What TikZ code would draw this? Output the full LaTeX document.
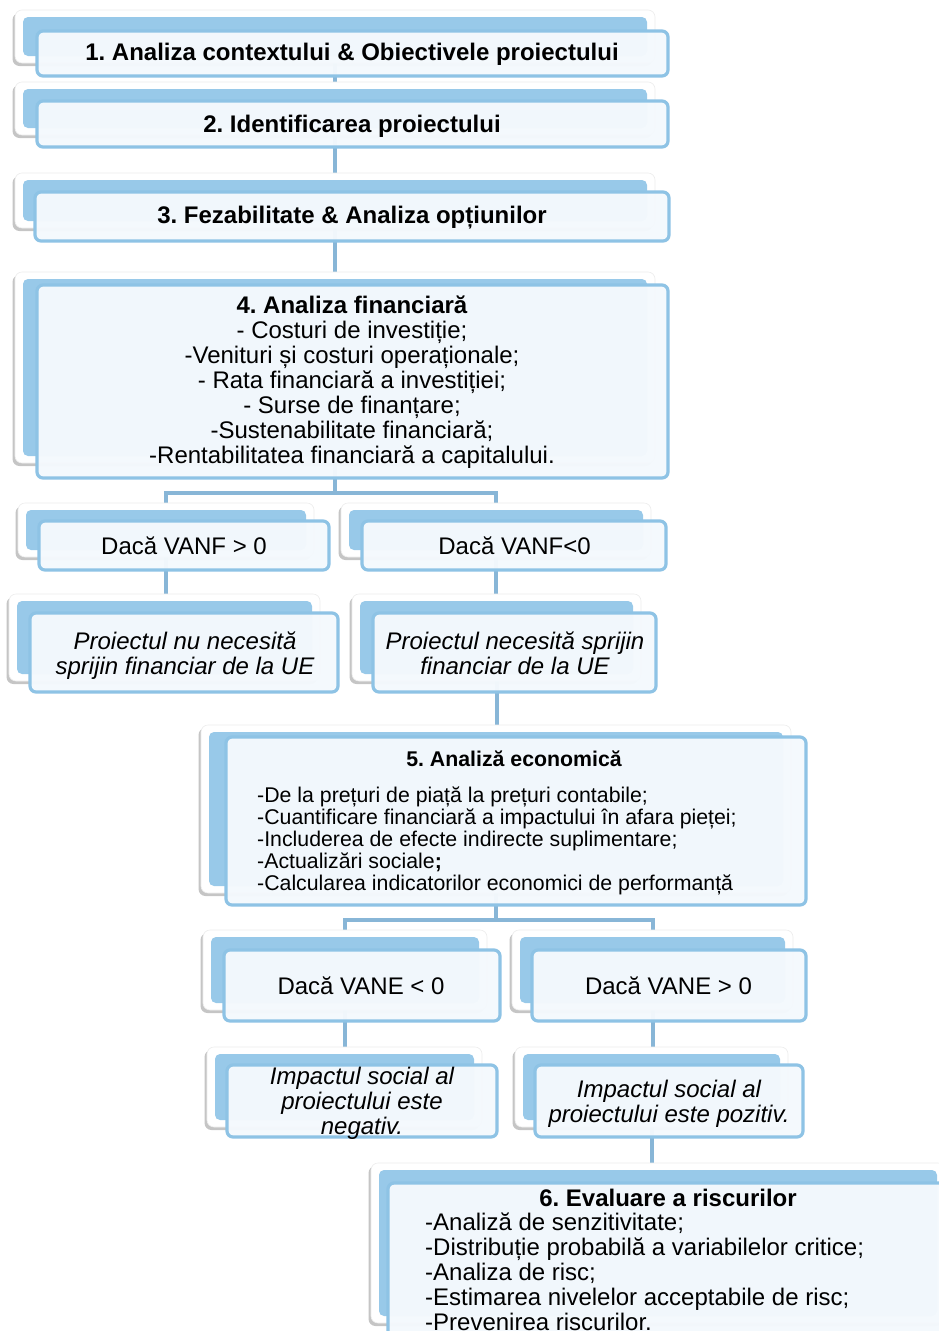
\documentclass[tikz,border=0pt]{standalone}
\usepackage{fontspec}
\setmainfont{Liberation Sans}
\frenchspacing
\usetikzlibrary{fit,shadows}
\definecolor{cardblue}{HTML}{98C9E9}
\definecolor{edgeblue}{HTML}{8EC3E5}
\definecolor{paleblue}{HTML}{F4F9FD}
\definecolor{linkblue}{HTML}{88B6D7}
\pgfdeclarelayer{bg}
\pgfsetlayers{bg,main}
\newcommand\fsA{\fontsize{24}{25}\selectfont}
\newcommand\fsB{\fontsize{21.3}{22}\selectfont}
\tikzset{
  backbox/.style={fill=white, draw=black!7, line width=0.6pt, rounded corners=7pt, inner sep=0pt,
    drop shadow={shadow xshift=-2.5pt, shadow yshift=-3pt, opacity=0.45, fill=black!50}},
  bluefill/.style={fill=cardblue, rounded corners=5pt},
  frontbox/.style={draw=edgeblue, line width=3.2pt, fill=paleblue, fill opacity=0.97, rounded corners=6pt, inner sep=0pt},
  link/.style={draw=linkblue, line width=4pt},
  txt/.style={font=\fsA, align=center, inner sep=0pt, text=black},
  txtb/.style={font=\fsA\bfseries, align=center, inner sep=0pt, text=black},
  txti/.style={font=\fsA\itshape, align=center, inner sep=0pt, text=black},
}
\newcommand\cardbox[9]{%
  \node[backbox, fit={(#2,#3)(#4,#5)}] (#1b) {};
  \fill[bluefill] ({#2+8},{#3+7}) rectangle ({#4-8},{#5-7});
  \node[frontbox, fit={(#6,#7)(#8,#9)}] (#1) {};
}
\begin{document}
\begin{tikzpicture}[x=1pt,y=-1pt]
\useasboundingbox (0,0) rectangle (939,1331);
\clip (0,0) rectangle (939,1331);

\cardbox{c1}{15}{10}{655}{63}{37}{31}{668}{76}
\cardbox{c2}{15}{82}{655}{135}{37}{101}{668}{147}
\cardbox{c3}{15}{173}{655}{228}{35}{192}{669}{241}
\cardbox{c4}{15}{272}{655}{463}{37}{285}{668}{478}
\cardbox{v1}{18}{503}{314}{557}{39}{521}{329}{570}
\cardbox{v2}{341}{503}{651}{557}{362}{521}{666}{570}
\cardbox{p1}{9}{594}{320}{681}{30}{613}{338}{692}
\cardbox{p2}{352}{594}{641}{681}{373}{613}{656}{692}
\cardbox{c5}{201}{725}{791}{893}{226}{737}{806}{905}
\cardbox{e1}{203}{930}{487}{1010}{224}{950}{500}{1021}
\cardbox{e2}{512}{930}{793}{1010}{532}{950}{806}{1021}
\cardbox{i1}{207}{1047}{482}{1127}{227}{1065}{497}{1137}
\cardbox{i2}{515}{1047}{788}{1127}{535}{1065}{803}{1137}
\cardbox{c6}{371}{1163}{945}{1323}{388}{1183}{965}{1360}

\coordinate (j4) at (335,493);
\coordinate (j5) at (497,920);
\begin{pgfonlayer}{bg}
  \fill[white] (0,0) rectangle (939,1331);
  \draw[link] (c1b.south) -- (c1b.south |- c2b.north);
  \draw[link] (c2b.south) -- (c2b.south |- c3b.north);
  \draw[link] (c3b.south) -- (c3b.south |- c4b.north);
  \draw[link] (c4b.south) -- (j4);
  \draw[link] (v1b.north) |- (j4) -| (v2b.north);
  \draw[link] (v1b.south) -- (v1b.south |- p1b.north);
  \draw[link] (v2b.south) -- (v2b.south |- p2b.north);
  \draw[link] (p2b.south) -- (p2b.south |- c5b.north);
  \draw[link] (c5b.south) -- (c5b.south |- j5);
  \draw[link] (e1b.north) |- (j5) -| (e2b.north);
  \draw[link] (e1b.south) -- (e1b.south |- i1b.north);
  \draw[link] (e2b.south) -- (e2b.south |- i2b.north);
  \draw[link] (i2b.south) -- (i2b.south |- c6b.north);
\end{pgfonlayer}

\node[txtb, anchor=base] (t1) at (352,60.5) {1. Analiza contextului \& Obiectivele proiectului};
\node[txtb, anchor=base] (t2) at (352,132.5) {2. Identificarea proiectului};
\node[txtb, anchor=base] (t3) at (352,223.5) {3. Fezabilitate \& Analiza opțiunilor};
\node[txt, anchor=north] (t4) at (352,296) {\textbf{4. Analiza financiară}\\- Costuri de investiție;\\-Venituri și costuri operaționale;\\- Rata financiară a investiției;\\- Surse de finanțare;\\-Sustenabilitate financiară;\\-Rentabilitatea financiară a capitalului.};
\node[txt, anchor=base] (tv1) at (184,554) {Dacă VANF > 0};
\node[txt, anchor=base] (tv2) at (514.5,554) {Dacă VANF<0};
\node[txti, anchor=north] (tp1) at (185,632) {Proiectul nu necesită\\sprijin financiar de la UE};
\node[txti, anchor=north] (tp2) at (515,632) {Proiectul necesită sprijin\\financiar de la UE};
\node[txtb, font=\fsB\bfseries, anchor=base] (t5) at (514,766) {5. Analiză economică};
\node[txt, font=\fsB, align=left, anchor=north west] (t5l) at (257,787) {-De la prețuri de piață la prețuri contabile;\\-Cuantificare financiară a impactului în afara pieței;\\-Includerea de efecte indirecte suplimentare;\\-Actualizări sociale\textbf{;}\\-Calcularea indicatorilor economici de performanță};
\node[txt, anchor=base] (te1) at (361,994) {Dacă VANE < 0};
\node[txt, anchor=base] (te2) at (668.5,994) {Dacă VANE > 0};
\node[txti, anchor=north] (ti1) at (362,1067) {Impactul social al\\proiectului este\\negativ.};
\node[txti, anchor=north] (ti2) at (669,1080) {Impactul social al\\proiectului este pozitiv.};
\node[txtb, anchor=base] (t6) at (668,1206) {6. Evaluare a riscurilor};
\node[txt, align=left, anchor=north west] (t6l) at (425,1213) {-Analiză de senzitivitate;\\-Distribuție probabilă a variabilelor critice;\\-Analiza de risc;\\-Estimarea nivelelor acceptabile de risc;\\-Prevenirea riscurilor.};
\end{tikzpicture}
\end{document}
